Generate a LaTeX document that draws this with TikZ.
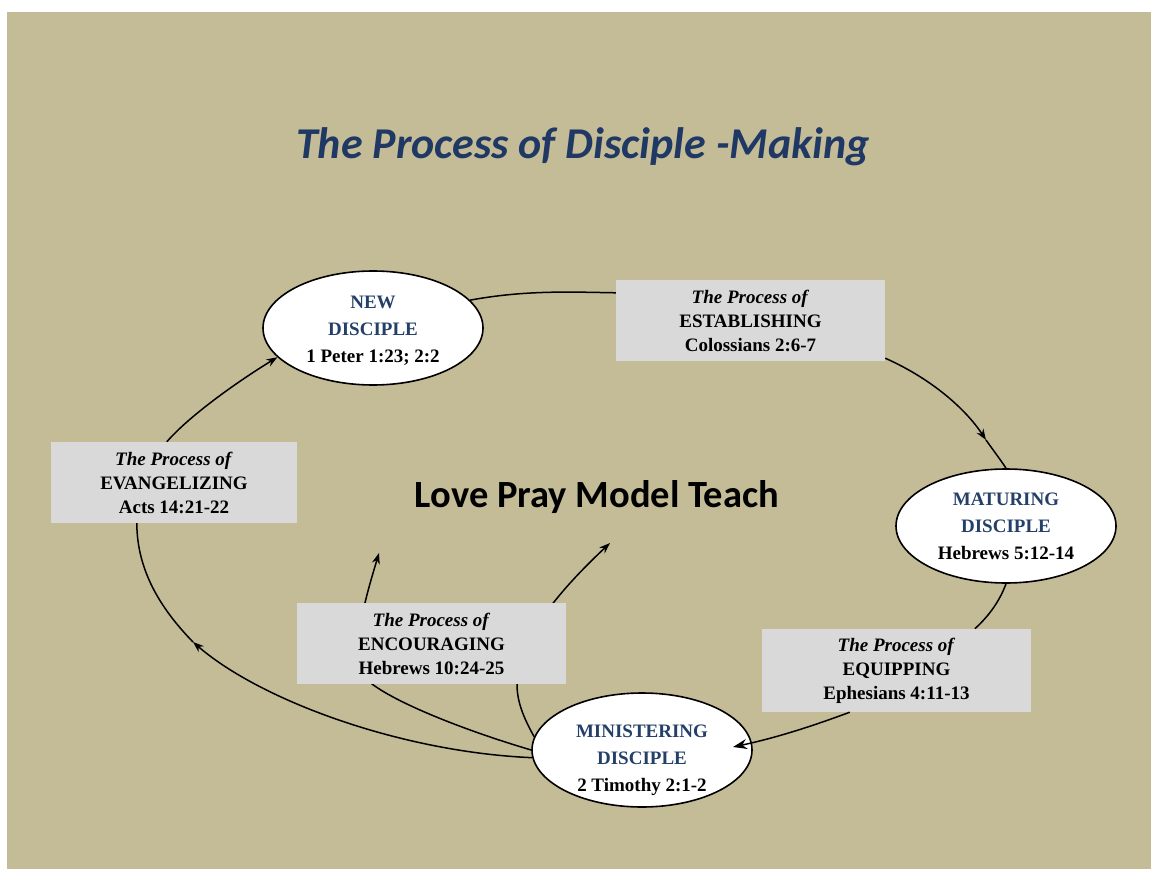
\documentclass[tikz,border=0pt]{standalone}
\usepackage{fontspec}
\setmainfont{Liberation Serif}
\newfontfamily\calib{Carlito}
\usetikzlibrary{shapes.geometric,arrows.meta,calc}
\pgfdeclarelayer{back}
\pgfdeclarelayer{lines}
\pgfsetlayers{back,lines,main}
\definecolor{bgtan}{RGB}{196,188,151}
\definecolor{boxgray}{RGB}{217,217,217}
\definecolor{titlenavy}{RGB}{31,56,100}
\definecolor{discnavy}{RGB}{36,64,104}
\begin{document}
\begin{tikzpicture}[x=1pt,y=-1pt,
  disc/.style={ellipse,draw=black,line width=1.6pt,fill=white,minimum width=220pt,minimum height=114pt,inner sep=0pt,align=center,font=\fontsize{19}{27}\selectfont\bfseries},
  disctext/.style={inner sep=0pt,align=center,font=\fontsize{19}{27}\selectfont\bfseries},
  proc/.style={rectangle,fill=boxgray,minimum width=269pt,minimum height=81pt,inner sep=0pt,align=center,font=\fontsize{19}{24}\selectfont\bfseries},
  conn/.style={line width=1.5pt},
  arr/.style={conn,-{Stealth[length=11pt,width=8pt]}},
  bigarr/.style={conn,-{Stealth[length=14pt,width=10pt]}}]
\useasboundingbox (0,0) rectangle (1151,869);
\begin{pgfonlayer}{back}
\fill[white] (0,0) rectangle (1151,869);
\fill[bgtan] (7,12) rectangle (1151,869);
\end{pgfonlayer}

% title and central text
\node[text=titlenavy,font=\calib\fontsize{44}{50}\selectfont\bfseries\itshape] (title) at (583,147) {The Process of Disciple -Making};
\node[text=black,font=\calib\fontsize{38.5}{44}\selectfont\bfseries] (lpmt) at (597,497) {Love Pray Model Teach};

% disciples
\node[disc] (new) at (373,328) {};
\node[disctext] (newtext) at (373,331) {\textcolor{discnavy}{NEW}\\\textcolor{discnavy}{DISCIPLE}\\1 Peter 1:23; 2:2};
\node[disc] (mat) at (1006,526) {\textcolor{discnavy}{MATURING}\\\textcolor{discnavy}{DISCIPLE}\\Hebrews 5:12-14};
\node[disc] (min) at (642,750) {};
\node[disctext] (mintext) at (642,760) {\textcolor{discnavy}{MINISTERING}\\\textcolor{discnavy}{DISCIPLE}\\2 Timothy 2:1-2};

% processes
\node[proc] (est) at (750.5,320.5) {\textit{The Process of}\\ESTABLISHING\\Colossians 2:6-7};
\node[proc,minimum height=83pt] (eq) at (896.5,670.5) {\textit{The Process of}\\EQUIPPING\\Ephesians 4:11-13};
\node[proc,minimum width=246pt] (ev) at (174,482.5) {\textit{The Process of}\\EVANGELIZING\\Acts 14:21-22};
\node[proc] (enc) at (431.5,643.5) {\textit{The Process of}\\ENCOURAGING\\Hebrews 10:24-25};

% free ends
\coordinate (tipA) at (986,440);
\coordinate (tipB) at (193,642);
\coordinate (tipC) at (379,553);
\coordinate (tipD) at (610,543);

\begin{pgfonlayer}{lines}
\draw[conn] (new.16) .. controls (525,290) and (570,292) .. ($(est.north west)+(0,13)$);
\draw[arr] ($(est.south east)+(0,-3)$) .. controls (930,378) and (965,408) .. (tipA);
\draw[conn] (tipA) .. controls (993,450) and (1000,459) .. (mat.north);
\draw[conn] (mat.south) .. controls (1000,600) and (990,615) .. ($(eq.north west)+(213,0)$);
\draw[arr] (min.184) .. controls (400,752) and (260,700) .. (tipB);
\draw[conn] (tipB) .. controls (160,608) and (137,570) .. ($(ev.south west)+(86,0)$);
\draw[arr] ($(ev.north west)+(116,0)$) .. controls (190,415) and (240,380) .. (new.197);
\draw[arr] (min.180) .. controls (470,732) and (400,705) .. (372,684) .. controls (345,664) and (365,600) .. (tipC);
\draw[arr] (min.173) .. controls (522,715) and (517,700) .. (517,684) .. controls (517,640) and (560,590) .. (tipD);
\end{pgfonlayer}
\draw[bigarr] ($(eq.south west)+(88,0)$) .. controls (810,727) and (775,738) .. ($(min.center)+(91,-3)$);
\end{tikzpicture}
\end{document}
